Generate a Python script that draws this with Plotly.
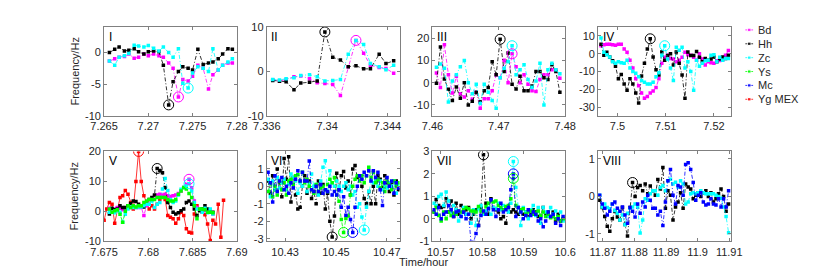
import plotly.graph_objects as go

# ---------------- data ----------------
# Panel I
t1 = [7.2656, 7.2662, 7.2667, 7.2673, 7.2678, 7.2684, 7.2689, 7.2695, 7.2700, 7.2706,
      7.2712, 7.2717, 7.2723, 7.2728, 7.2734, 7.2739, 7.2745, 7.2750, 7.2756, 7.2762,
      7.2768, 7.2773, 7.2779, 7.2784, 7.2790, 7.2795]
bd1 = [-1.35, -1, -0.75, -0.65, -0.25, -0.9, -0.75, -0.25, -0.5, -0.25,
       -0.5, -0.75, -1.65, -2.5, -7, -4.25, -4.5, -3.75, -2, -2.5,
       -5.75, -3.5, -2.75, -2, -1.65, -1.65]
hh1 = [0, 0.5, 0.85, 0.25, 0.35, 0.6, 0.1, -0.25, 0.1, 0.25,
       0.1, -2, -8.25, -4.6, -3, -2.25, -2.5, -2.75, 0.5, -1.9,
       -1.65, -1.5, -1, -0.25, 0.6, 0.5]
zc1 = [-1.35, -2, -0.75, -0.5, -0.15, 1.15, 1, 0.85, 1.1, 0.65,
       0.25, 0.85, 0, -0.75, 0.6, -4.85, -5.6, -3.25, -2.25, -2.5,
       -3, 0.6, -2.75, -2, -1.5, -1]

# Panel II
t2 = [7.33639, 7.33684, 7.33728, 7.33780, 7.33825, 7.33883, 7.33934, 7.33985, 7.34037,
      7.34088, 7.34140, 7.34191, 7.34242, 7.34287, 7.34345, 7.34390, 7.34441]
bd2 = [-1.9, -2.1, -1.8, -1.2, -1.0, -1.6, -2.5, -2.7, -2.9, -5.4, 1.1, 7.0, 4.1, 1.4, 0.9, 0.7, -0.4]
hh2 = [-2.0, -2.2, -2.3, -4.1, -2.6, -2.4, -2.1, 8.9, 3.2, 2.6, 1.1, 1.3, 0.6, 0.6, 3.9, 1.8, 2.4]
zc2 = [-1.8, -1.9, -1.6, -1.4, -0.9, -0.7, -1.2, -2.1, -2.0, -1.8, 3.9, 7.0, 6.1, 1.8, 1.1, 0.4, 1.4]

# Panel III
t3 = [7.4606, 7.4612, 7.4618, 7.4624, 7.4630, 7.4636, 7.4642, 7.4648, 7.4654, 7.4660,
      7.4666, 7.4672, 7.4678, 7.4684, 7.4690, 7.4696, 7.4702, 7.4708, 7.4714, 7.4720,
      7.4726, 7.4732, 7.4738, 7.4744, 7.4750, 7.4756, 7.4762, 7.4768, 7.4774, 7.4780,
      7.4786, 7.4792]
bd3 = [4.3, -2.2, 17, 3.6, -4.6, 2.9, -5, -6.5, -3.6, -7.5,
       -4.3, -11.5, -7.2, -7.2, -3.6, 3.6, 2.2, 10.1, 0, 13,
       7.2, 0, 3.6, -0.7, -3.6, -4, 1.4, 3.6, 3.6, 5.8,
       5.8, 2]
hh3 = [-0.3, 16, 1.7, -3, -8, -2, -7, 0, -10, -8.4,
       -4.3, -8.7, -3.6, -2.2, 9.4, 3.6, 19.5, 5, 13.3, -0.7,
       -2.9, 2.9, -3.6, -3.6, -1.5, 5, 5, 2.2, 1.4, 8,
       5, -4.3]
zc3 = [6.9, 8.4, 6.5, -8.7, 0.7, 3.6, 7.2, 10, 0, -5,
       -0.7, -9.4, -0.7, -4.3, -8, -11.5, 2.2, 6.5, 9.4, 16.6,
       3.6, 5.8, 8, 1.4, -2.2, 0.7, 8.7, -10, 5.8, 8.7,
       5.8, 4]

# Panel IV
t4 = [7.4966, 7.4972, 7.4978, 7.4984, 7.4990, 7.4996, 7.5002, 7.5008, 7.5014, 7.5020,
      7.5026, 7.5032, 7.5038, 7.5044, 7.5050, 7.5056, 7.5062, 7.5068, 7.5074, 7.5080,
      7.5086, 7.5092, 7.5098, 7.5104, 7.5110, 7.5116, 7.5122, 7.5128, 7.5134, 7.5140,
      7.5146, 7.5152, 7.5158, 7.5164, 7.5170, 7.5176, 7.5182, 7.5188, 7.5194, 7.5200,
      7.5206, 7.5212, 7.5218, 7.5224, 7.5230]
bd4 = [4.5, 5, 5.4, 5.4, 5, 4.8, 5.4, 5.4, 2.7, 0.9,
       -3.6, -8, -14, -18, -22, -25, -24, -22, -21, -19,
       -14, -5.4, -2, -0.9, -2.7, -3, -4.5, -3.6, -2, 0.9,
       -0.5, -0.9, -2, -3.6, 0, -3, -6.3, -4.5, -5, -5.4,
       -4, -3.8, -3.6, -0.9, 1.8]
hh4 = [5.4, -0.9, 0.9, -1.8, -4, -7, -14, -11.6, -17, -20.5,
       -14, -17, -22, -27.7, -12.5, -5.4, 2.7, 8.4, -1.8, -9,
       -12, 1, -3.6, -1, 0, -6.3, 1, -5.4, -12, -25,
       1, -1, -1, 1.3, -2, -4.5, -2.7, -3.6, -3, -1.8,
       -4.5, -3, -1.8, -2.7, -0.9]
zc4 = [8.9, 0.9, -0.5, -1.8, -4.5, -5.4, -4.5, -5, -5.4, -3.6,
       -8, -10, -11, -13, -15, -16, -17, -17, -16, -13,
       -10.7, -0.9, 4.5, -3, -8, -15, 3.6, 2, 3.6, -8,
       -4.5, -10, -20.5, -3.6, -7, -5.4, -4, -3.6, -0.9, -0.5,
       -4.5, -2, -3.6, -2.7, -2.7]

# Panel V
t5 = [7.6756, 7.6759, 7.6762, 7.6765, 7.6768, 7.6771, 7.6774, 7.6777, 7.6780, 7.6783,
      7.6786, 7.6789, 7.6792, 7.6795, 7.6798, 7.6801, 7.6804, 7.6807, 7.6810, 7.6813,
      7.6816, 7.6819, 7.6822, 7.6825, 7.6828, 7.6831, 7.6834, 7.6837, 7.6840, 7.6843,
      7.6846, 7.6849, 7.6852, 7.6855, 7.6858, 7.6861, 7.6864, 7.6867, 7.6870, 7.6873]
bd5 = [1.0, 0.5, 0.8, 1.3, 1.0, 0.5, 0.8, 1.3, 1.3, 1.5,
       1.3, 1.3, 1.3, -1.4, 1.9, 2.4, 4.0, 5.2, 5.5, 5.7,
       5.5, 5.7, 5.2, 5.0, 5.2, 5.5, 6.0, 6.8, 8.0, 9.0,
       10.7, 7.9, 3.5, 1.3, 0.5, -0.3, 0.2, 0.5, 0.2, -0.9]
hh5 = [-0.9, 1.0, 0.5, 0.8, 1.9, 1.3, 1.3, 1.9, 2.6, 3.5,
       3.3, 2.4, 1.9, 1.5, 2.4, 4.0, 4.6, 5.5, 14.3, 13.6,
       12.9, 8.0, 3.0, 1.3, -0.3, -0.9, -0.5, 0.2, 0.8, 3.0,
       3.5, 2.4, 0.8, -1.4, 0.2, 0.8, 1.9, 0.8, 0.2, -0.3]
zc5 = [-0.3, -0.3, -0.5, 0.2, -0.3, -3.6, -1.0, 0.8, 1.5, 1.3,
       1.3, 1.5, 1.5, 1.9, 2.4, 2.4, 3.5, 1.3, 2.4, 3.0,
       7.5, 11.0, 7.0, 4.0, 3.0, 3.5, 5.5, 7.4, 8.0, 8.5,
       9.2, 6.8, 3.0, 0.8, 0.8, -0.3, 1.0, -0.5, 0.8, -0.9]
ys5 = [0.8, -0.3, 0.2, 0.5, -1.0, -3.6, 0.0, 1.9, 1.3, 1.9,
       1.5, 1.9, 1.9, 3.0, 3.5, 4.0, 4.0, 4.0, 4.6, 4.6,
       4.6, 4.6, 4.0, 3.5, 3.5, 4.0, 5.7, 6.8, 8.0, 7.5,
       6.0, 4.6, 1.9, -2.5, 0.8, 0.8, 0.5, -0.3, -0.3, -0.5]
t5r = [7.6750, 7.6753, 7.6756, 7.6759, 7.6762, 7.6765, 7.6768, 7.6771, 7.6774, 7.6777,
       7.6780, 7.6783, 7.6786, 7.6789, 7.6792, 7.6795, 7.6798, 7.6801, 7.6804, 7.6807,
       7.6810, 7.6813, 7.6816, 7.6819, 7.6822, 7.6825, 7.6828, 7.6831, 7.6834, 7.6837,
       7.6840, 7.6843, 7.6846, 7.6849, 7.6852, 7.6855, 7.6858, 7.6861, 7.6864, 7.6867,
       7.6870, 7.6873, 7.6876, 7.6879, 7.6882, 7.6885]
yg5 = [-3, 0.8, 3.0, 2.4, -4.0, 1.0, 4.6, 5.2, 7.0, 5.7,
       3.0, 0.8, 10.0, 20.0, 10.0, 5.2, 3.0, 0.8, 1.9, 0.8,
       2.4, 4.0, 5.2, 4.0, -1.4, -2.0, -2.5, -4.0, -2.5, -0.3,
       -1.4, -5.8, -7.0, -7.2, -0.9, 1.9, 0.8, -0.3, -1.1, -4.2,
       -9.7, -3.0, -4.2, 2.4, -8.6, 3.7]

# Panel VI
t6 = [10.4233, 10.4242, 10.4251, 10.4260, 10.4269, 10.4278, 10.4287, 10.4296, 10.4305, 10.4314,
      10.4323, 10.4332, 10.4341, 10.4350, 10.4359, 10.4368, 10.4377, 10.4386, 10.4395, 10.4404,
      10.4413, 10.4422, 10.4431, 10.4440, 10.4449, 10.4458, 10.4467, 10.4476, 10.4485, 10.4494,
      10.4503, 10.4512, 10.4521, 10.4530, 10.4539, 10.4548, 10.4557, 10.4566, 10.4575, 10.4584,
      10.4593, 10.4602, 10.4611, 10.4620, 10.4629, 10.4638, 10.4647, 10.4656, 10.4665, 10.4674,
      10.4683, 10.4692, 10.4701, 10.4710, 10.4719, 10.4728, 10.4737, 10.4746]
hh6 = [0.3, -0.4, 0.6, -0.2, 1.0, 0.2, -0.6, 1.6, 0.4, 1.7,
       -0.9, 0.5, -0.5, -1.3, -1.2, 0.0, 0.6, -0.4, 0.3, -0.7,
       -0.3, -1.0, 0.3, -0.4, 0.1, -1.3, -0.4, -2.0, -2.9, -1.7,
       0.75, -0.2, 0.6, 0.85, -0.1, 0.3, -0.5, 1.0, 1.2, 0.5,
       0.6, 0.0, -0.7, -1.0, -0.3, -1.0, 0.0, -1.0, 0.6, 0.4,
       -0.1, 0.6, 0.2, -0.3, 0.2, -0.5, 0.3, -0.2]
zc6 = [0.4, -0.6, 0.3, -0.2, 0.5, -0.1, 0.2, 0.4, -0.2, 0.1,
       0.7, 0.5, 0.3, -0.4, 0.2, 0.0, 0.3, -0.3, 0.1, 0.7,
       0.0, 0.1, -0.5, 0.3, 1.1, 1.46, -0.3, 0.9, 0.2, 0.0,
       0.3, 0.0, -0.3, 0.0, 0.2, -0.2, 0.0, -0.5, -0.3, -1.2,
       -1.0, -1.75, -2.5, -1.2, -0.3, 0.3, 0.2, 0.4, 0.0, 0.3,
       -0.2, 0.0, -0.1, 0.2, 0.0, 0.3, -0.4, 0.1]
ys6 = [-0.3, 0.2, -0.6, 0.0, -0.5, 0.3, -0.2, 0.2, -0.5, 0.3,
       0.4, 0.1, 0.6, 0.66, 0.3, 0.8, 0.2, 0.4, 0.0, -0.2,
       -0.4, 0.1, -0.3, -0.1, 0.0, -0.2, 0.1, 0.4, 0.2, 0.5,
       -0.5, -0.86, -1.9, -2.64, -1.84, -1.7, -0.5, 0.0, 0.4, 0.6,
       0.3, 0.6, 0.2, 0.6, 1.1, 0.5, 0.8, 0.2, 0.4, -0.1,
       0.2, -0.3, 0.3, 0.1, -0.2, 0.3, 0.0, 0.2]
mc6 = [0.8, 0.2, -0.9, 0.6, -0.3, 0.3, 0.5, -0.2, 0.0, -0.4,
       0.2, -0.1, 0.4, 0.9, 0.3, 0.8, 0.3, 0.3, 1.45, -0.2,
       -0.3, 0.0, -0.3, 0.1, -0.4, -0.2, -0.3, 0.0, -0.5, -0.3,
       -0.5, -0.2, -1.2, -0.6, -1.66, -1.2, -1.9, -2.64, -1.2, 0.0,
       0.6, 0.4, 0.8, 0.6, 0.9, 0.3, 0.9, 0.5, 0.8, -0.2,
       -1.1, 0.2, 0.5, 0.0, 0.3, -0.4, 0.2, -0.1]

# Panel VII
t7 = [10.5683, 10.5689, 10.5695, 10.5701, 10.5707, 10.5713, 10.5719, 10.5725, 10.5731, 10.5737,
      10.5743, 10.5749, 10.5755, 10.5761, 10.5767, 10.5773, 10.5779, 10.5785, 10.5791, 10.5797,
      10.5803, 10.5809, 10.5815, 10.5821, 10.5827, 10.5833, 10.5839, 10.5845, 10.5851, 10.5857,
      10.5863, 10.5869, 10.5875, 10.5881, 10.5887, 10.5893, 10.5899, 10.5905, 10.5911, 10.5917,
      10.5923, 10.5929, 10.5935, 10.5941, 10.5947, 10.5953, 10.5959, 10.5965, 10.5971, 10.5977,
      10.5983, 10.5989, 10.5995]
hh7 = [0.3, 0.86, 0.6, 0.5, 0.55, 0.9, 0.3, 0.8, 0.1, 0.7,
       0.2, 0.6, 0.3, 0.4, 0.5, 0.0, 0.2, 0.4, -0.3, 0.5,
       2.85, 0.7, 0.2, 0.9, 0.5, 0.4, 0.3, 0.0, 0.1, -0.2,
       0.5, 0.3, 0.4, 0.3, 0.2, 0.4, 0.2, 0.3, 0.1, 0.2,
       0.4, 0.3, 0.1, 0.15, 0.5, 0.2, 0.3, 0.1, 0.3, -0.1,
       0.2, -0.1, 0.0]
zc7 = [0.7, 0.6, 1.0, 1.1, 0.6, 1.2, 0.8, 0.3, 0.6, 0.4,
       -0.1, 0.1, 0.5, 0.2, 0.2, -0.2, 0.4, -0.3, 0.45, 0.6,
       0.2, 0.35, 0.5, 0.2, 0.5, 0.45, 0.7, 0.4, 0.6, 0.5,
       0.3, 0.7, 2.55, 1.4, 0.5, -0.3, 0.5, 0.3, 0.0, 0.4,
       0.6, 0.15, 0.5, -0.2, 0.5, 0.3, 0.1, 0.5, 0.2, 0.35,
       0.05, 0.3, -0.1]
ys7 = [0.3, 0.5, 0.15, -0.1, 0.3, 0.0, 0.3, 0.15, 0.25, 0.2,
       0.35, 0.3, 0.4, 0.5, 0.45, 0.35, 0.35, 0.3, 0.55, 0.35,
       0.3, 0.55, 0.7, 0.8, 0.75, 0.8, 0.6, 0.5, 0.4, 0.55,
       0.6, 0.9, 1.8, 0.6, 0.5, 0.4, 0.45, 0.2, 0.3, 0.35,
       0.2, 0.25, 0.35, 0.15, 0.3, 0.1, 0.2, 0.05, 0.1, 0.0,
       0.1, -0.1, 0.0]
mc7 = [0.4, 0.2, 0.5, 0.0, 0.2, 0.3, 0.6, 0.4, 0.1, 0.3,
       0.35, 0.1, 0.3, 0.0, 0.2, -1.05, -1.05, -0.65, -0.3, 0.15,
       0.35, 0.2, 0.45, 0.85, 0.4, 0.1, 0.4, 0.7, 0.3, 0.4,
       0.5, 1.3, 2.0, 0.1, 0.5, 0.3, 0.0, 0.15, 0.4, 0.15,
       0.3, 0.2, -0.1, 0.0, -0.35, -0.1, 0.3, 0.1, 0.2, -0.2,
       0.0, -0.3, 0.1]

# Panel VIII
t8 = [11.8690, 11.8698, 11.8706, 11.8714, 11.8722, 11.8730, 11.8738, 11.8746, 11.8754, 11.8762,
      11.8770, 11.8778, 11.8786, 11.8794, 11.8802, 11.8810, 11.8818, 11.8826, 11.8834, 11.8842,
      11.8850, 11.8858, 11.8866, 11.8874, 11.8882, 11.8890, 11.8898, 11.8906, 11.8914, 11.8922,
      11.8930, 11.8938, 11.8946, 11.8954, 11.8962, 11.8970, 11.8978, 11.8986, 11.8994, 11.9002,
      11.9010, 11.9018, 11.9026, 11.9034, 11.9042, 11.9050, 11.9058, 11.9066, 11.9074, 11.9082,
      11.9090, 11.9098]
hh8 = [-0.1, -0.3, -0.54, -0.8, -0.93, -0.6, -0.4, -0.55, -0.63, -0.3,
       -0.75, -1.06, -0.3, 0.37, 0.0, 0.24, 0.29, 0.15, 0.33, 0.07,
       0.28, 0.15, 0.03, 0.45, 0.2, 0.77, -0.32, 0.15, 0.03, -0.63,
       -0.28, -0.15, 0.1, -0.32, 0.33, 0.25, 0.2, -0.06, 0.03, 0.1,
       0.0, 0.1, 0.15, 0.0, 0.1, -0.15, -0.06, 0.07, 0.2, 0.0,
       -0.4, -0.2]
zc8 = [0.03, -0.28, -0.2, -0.3, -0.33, -0.2, -0.38, -0.45, -0.63, -0.5,
       -0.76, -0.45, -0.32, -0.28, -0.2, -0.28, -0.98, -0.63, -0.06, -0.1,
       0.07, 0.15, 0.15, 0.03, 0.24, 0.29, 0.15, 0.42, 0.46, 0.33,
       0.38, 0.25, 0.42, 0.33, -0.2, -0.15, 0.07, 0.1, 0.07, 0.1,
       0.15, 0.1, 0.07, 0.07, 0.07, 0.07, 0.03, 0.0, -0.05, -0.28,
       -0.54, -0.97]
mc8 = [0.03, -0.2, -0.32, -0.5, -0.4, -0.2, -0.15, -0.32, -0.4, -0.28,
       -0.5, -0.72, -0.3, -0.4, -0.55, -0.2, -0.45, -0.15, -0.28, 0.03,
       -0.1, -0.32, -0.32, -0.5, -0.4, -0.78, -0.15, 0.42, 0.72, 0.03,
       -0.2, 0.29, 0.25, 0.03, 0.85, 0.9, 0.72, 0.37, -0.1, 0.03,
       0.1, -0.15, -0.23, -0.2, -0.06, -0.2, -0.23, -0.06, -0.28, -0.06,
       -0.28, 0.15]

# Legend / colours
series_names = ["Bd", "Hh", "Zc", "Ys", "Mc", "Yg MEX"]
series_colors = ["#FF00FF", "#000000", "#00FFFF", "#00FF00", "#0000FF", "#FF0000"]
COL = dict(zip(series_names, series_colors))

panels = [
    dict(label="I", series=[("Bd", t1, bd1), ("Hh", t1, hh1), ("Zc", t1, zc1)],
         circles={"Hh": 12, "Bd": 14, "Zc": 16},
         xr=[7.265, 7.28], yr=[-10, 4],
         xt=[7.265, 7.27, 7.275, 7.28], xtt=["7.265", "7.27", "7.275", "7.28"], yt=[-10, -5, 0]),
    dict(label="II", series=[("Bd", t2, bd2), ("Hh", t2, hh2), ("Zc", t2, zc2)],
         circles={"Hh": 7, "Bd": 11},
         xr=[7.336, 7.3448], yr=[-10, 10],
         xt=[7.336, 7.34, 7.344], xtt=["7.336", "7.34", "7.344"], yt=[-10, 0, 10]),
    dict(label="III", series=[("Bd", t3, bd3), ("Hh", t3, hh3), ("Zc", t3, zc3)],
         circles={"Hh": 16, "Bd": 19, "Zc": 19},
         xr=[7.46, 7.48], yr=[-15, 25],
         xt=[7.46, 7.47, 7.48], xtt=["7.46", "7.47", "7.48"], yt=[-10, 0, 10, 20]),
    dict(label="IV", series=[("Bd", t4, bd4), ("Hh", t4, hh4), ("Zc", t4, zc4)],
         circles={"Hh": 17, "Zc": 22},
         xr=[7.496, 7.5235], yr=[-35, 15],
         xt=[7.5, 7.51, 7.52], xtt=["7.5", "7.51", "7.52"], yt=[-30, -20, -10, 0, 10]),
    dict(label="V", series=[("Yg MEX", t5r, yg5), ("Bd", t5, bd5), ("Hh", t5, hh5), ("Zc", t5, zc5), ("Ys", t5, ys5)],
         circles={"Yg MEX": 13, "Hh": 18, "Bd": 30, "Zc": 30},
         xr=[7.675, 7.69], yr=[-10, 20],
         xt=[7.675, 7.68, 7.685, 7.69], xtt=["7.675", "7.68", "7.685", "7.69"], yt=[-10, 0, 10, 20]),
    dict(label="VI", series=[("Hh", t6, hh6), ("Zc", t6, zc6), ("Ys", t6, ys6), ("Mc", t6, mc6)],
         circles={"Hh": 28, "Ys": 33, "Mc": 37, "Zc": 42},
         xr=[10.4228, 10.475], yr=[-3.15, 2],
         xt=[10.43, 10.45, 10.47], xtt=["10.43", "10.45", "10.47"], yt=[-3, -2, -1, 0, 1]),
    dict(label="VII", series=[("Hh", t7, hh7), ("Zc", t7, zc7), ("Ys", t7, ys7), ("Mc", t7, mc7)],
         circles={"Hh": 20, "Zc": 32, "Mc": 32, "Ys": 32},
         xr=[10.568, 10.6], yr=[-1, 3],
         xt=[10.57, 10.58, 10.59, 10.6], xtt=["10.57", "10.58", "10.59", "10.6"], yt=[-1, 0, 1, 2, 3]),
    dict(label="VIII", series=[("Hh", t8, hh8), ("Zc", t8, zc8), ("Mc", t8, mc8)],
         circles={"Hh": 13},
         xr=[11.8685, 11.9105], yr=[-1.2, 1.2],
         xt=[11.87, 11.88, 11.89, 11.9, 11.91], xtt=["11.87", "11.88", "11.89", "11.9", "11.91"], yt=[-1, 0, 1]),
]

# ---------------- layout geometry ----------------
W, H = 830, 277
col_px = [(93, 230), (261, 398), (432, 569), (603, 740)]
row_px = [(22, 115), (152, 246)]
FONT = "Liberation Sans, Arial, Helvetica, sans-serif"
AX = "#808080"
TXT = "#262626"
DASH = "4px,2px,1px,2px"

fig = go.Figure()
layout = dict(
    width=W, height=H, margin=dict(l=0, r=0, t=0, b=0),
    paper_bgcolor="white", plot_bgcolor="white",
    showlegend=False, font=dict(family=FONT, size=11, color=TXT),
)
annotations = []

for k, p in enumerate(panels):
    r, c = divmod(k, 4)
    n = k + 1
    xa = "x" if n == 1 else f"x{n}"
    ya = "y" if n == 1 else f"y{n}"
    x0, x1 = col_px[c]
    y0, y1 = row_px[r]
    axstyle = dict(showline=True, linecolor=AX, linewidth=1, mirror="allticks",
                   ticks="inside", ticklen=3, tickcolor=AX, showgrid=False, zeroline=False,
                   tickfont=dict(family=FONT, size=11, color=TXT))
    layout["xaxis" if n == 1 else f"xaxis{n}"] = dict(
        domain=[x0 / W, x1 / W], anchor=ya, range=p["xr"],
        tickvals=p["xt"], ticktext=p["xtt"], **axstyle)
    layout["yaxis" if n == 1 else f"yaxis{n}"] = dict(
        domain=[1 - y1 / H, 1 - y0 / H], anchor=xa, range=p["yr"],
        tickvals=p["yt"], ticktext=[f"{v:g}" for v in p["yt"]], **axstyle)
    for name, tt, yy in p["series"]:
        solid = (name == "Yg MEX")
        fig.add_trace(go.Scatter(
            x=tt, y=yy, xaxis=xa, yaxis=ya, mode="lines+markers", name=name,
            line=dict(color=COL[name], width=0.8, dash="solid" if solid else DASH),
            marker=dict(symbol="square", size=3.5, color=COL[name]),
            hoverinfo="skip"))
    for name, idx in p["circles"].items():
        tt, yy = [(s[1], s[2]) for s in p["series"] if s[0] == name][0]
        fig.add_trace(go.Scatter(
            x=[tt[idx]], y=[yy[idx]], xaxis=xa, yaxis=ya, mode="markers",
            marker=dict(symbol="circle-open", size=10, color=COL[name], line=dict(width=1)),
            hoverinfo="skip"))
    annotations.append(dict(text=p["label"], xref=f"{xa} domain", yref=f"{ya} domain",
                            x=0.02, y=0.99, xanchor="left", yanchor="top", showarrow=False,
                            font=dict(family=FONT, size=12, color="black")))

# axis titles
for (y0, y1) in row_px:
    annotations.append(dict(text="Frequency/Hz", xref="paper", yref="paper",
                            x=62 / W, y=1 - (y0 + y1) / 2 / H, textangle=-90,
                            xanchor="center", yanchor="middle", showarrow=False,
                            font=dict(family=FONT, size=11, color=TXT)))
annotations.append(dict(text="Time/hour", xref="paper", yref="paper",
                        x=423 / W, y=1 - 268 / H, xanchor="center", yanchor="middle",
                        showarrow=False, font=dict(family=FONT, size=11, color=TXT)))

# manual legend on a hidden pixel-unit axis
layout["xaxis9"] = dict(domain=[745 / W, 1], range=[745, 830], visible=False, anchor="y9")
layout["yaxis9"] = dict(domain=[0, 1], range=[H, 0], visible=False, anchor="x9")
leg_y = [25, 39.5, 54, 68.5, 83, 97.5]
for name, color, ly in zip(series_names, series_colors, leg_y):
    fig.add_trace(go.Scatter(
        x=[755, 759, 763], y=[ly, ly, ly], xaxis="x9", yaxis="y9", mode="lines+markers",
        line=dict(color=color, width=0.8), marker=dict(symbol="square", size=[0, 3.5, 0], color=color),
        hoverinfo="skip"))
    annotations.append(dict(text=name, xref="x9", yref="y9", x=766, y=ly,
                            xanchor="left", yanchor="middle", showarrow=False,
                            font=dict(family=FONT, size=11, color=TXT)))

layout["annotations"] = annotations
fig.update_layout(**layout)
fig.write_html("out.html", config={"displayModeBar": False},
               post_script="document.body.style.margin='0px';document.body.style.overflow='hidden';")
